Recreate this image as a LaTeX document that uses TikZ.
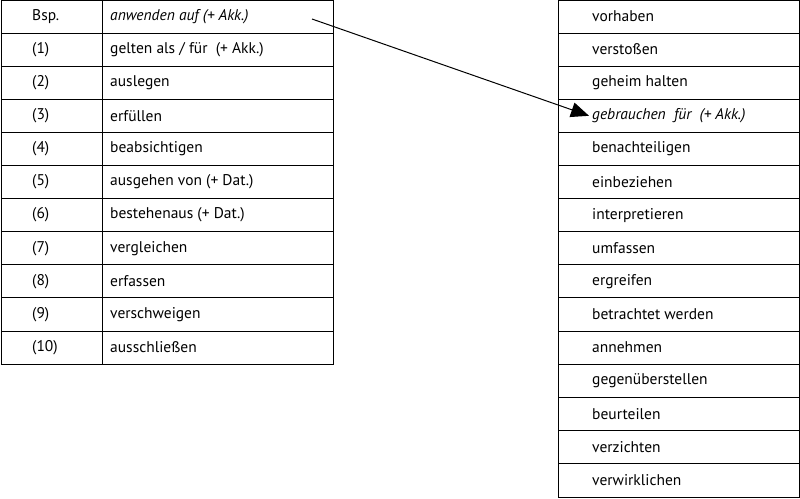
\documentclass[tikz,border=0pt]{standalone}
\usepackage{fontspec}
\setmainfont{PT Sans}
\usetikzlibrary{arrows.meta}
\begin{document}
\begin{tikzpicture}[x=1pt,y=-1pt,
  cell/.style={anchor=west,inner sep=0pt,font=\fontsize{15.5}{17}\selectfont},
  grid/.style={line width=0.9pt}]
\useasboundingbox (0,0) rectangle (800,498);
% left table
\draw[grid] (1,0) rectangle (333,364);
\draw[grid] (102,0) -- (102,364);
\foreach \i in {1,...,10} \draw[grid] (1,{33.1*\i}) -- (333,{33.1*\i});
\foreach [count=\i from 0] \a/\b in {Bsp./{\itshape anwenden auf (+ Akk.)},(1)/{gelten als {/} für\ \ (+ Akk.)},(2)/auslegen,(3)/erfüllen,(4)/beabsichtigen,(5)/ausgehen von (+ Dat.),(6)/bestehenaus (+ Dat.),(7)/vergleichen,(8)/erfassen,(9)/verschweigen,(10)/ausschließen}{
  \node[cell] (la\i) at (32,{33.1*\i+16.5}) {\a};
  \node[cell] (lb\i) at (110,{33.1*\i+16.5}) {\b};
}
% right table
\draw[grid] (558,0) rectangle (799,497);
\foreach \i in {1,...,14} \draw[grid] (558,{33.1*\i}) -- (799,{33.1*\i});
\foreach [count=\i from 0] \t in {vorhaben,verstoßen,geheim halten,{\itshape gebrauchen\ \ für\ \ (+ Akk.)},benachteiligen,einbeziehen,interpretieren,umfassen,ergreifen,betrachtet werden,annehmen,gegenüberstellen,beurteilen,verzichten,verwirklichen}{
  \node[cell] (r\i) at (592,{33.1*\i+16.5}) {\t};
}
\coordinate (s) at (312,19);
\draw[line width=1pt,-{Triangle[length=18pt,width=15pt]}] (s) -- ([xshift=-3pt]r3.west);
\end{tikzpicture}
\end{document}
